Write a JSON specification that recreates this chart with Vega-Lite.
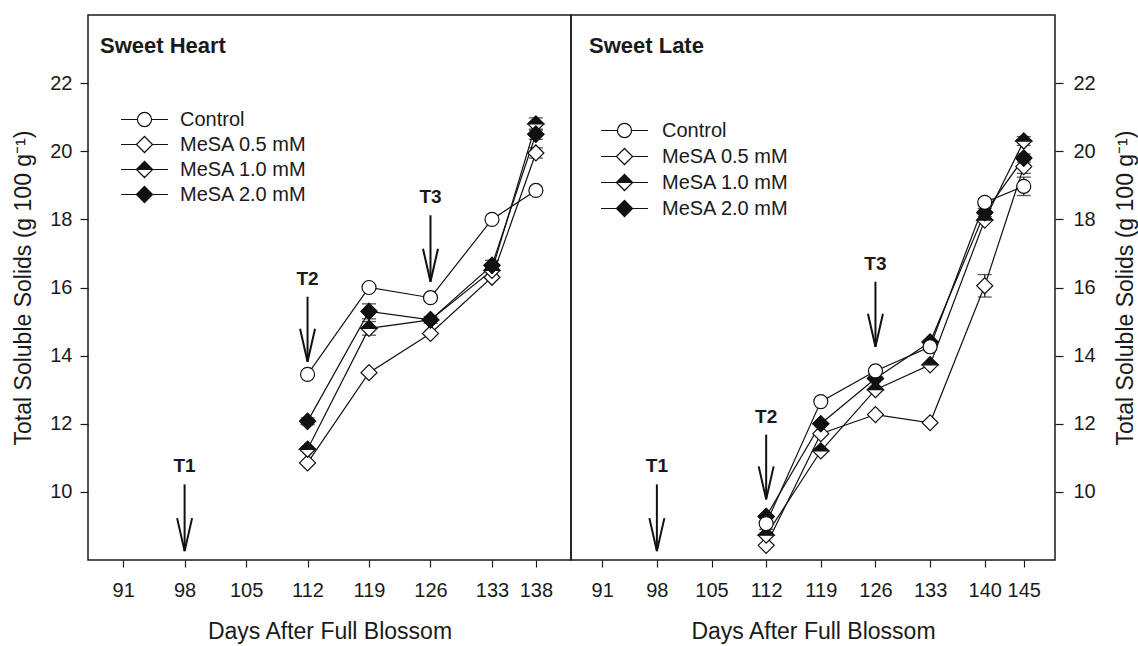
{
  "$schema": "https://vega.github.io/schema/vega-lite/v6.json",
  "background": "white",
  "padding": {"left": 12, "top": 14, "right": 4, "bottom": 4},
  "spacing": 0,
  "bounds": "flush",
  "config": {
    "font": "Liberation Sans",
    "view": {"stroke": "#1a1a1a", "strokeWidth": 1.5},
    "axis": {
      "labelFont": "Liberation Sans", "labelFontSize": 20, "labelColor": "#1a1a1a",
      "titleFont": "Liberation Sans", "titleFontSize": 23, "titleFontWeight": "normal", "titleColor": "#1a1a1a",
      "tickColor": "#1a1a1a", "tickWidth": 1.2, "grid": false, "domain": false
    },
    "axisX": {"tickSize": 7, "labelPadding": 13, "titlePadding": 20},
    "axisY": {"tickSize": 8, "labelPadding": 8, "titlePadding": 14},
    "legend": {"labelFont": "Liberation Sans", "padding": 0}
  },
  "datasets": {
    "heart": [
      {"series": "Control", "day": 112, "tss": 13.45},
      {"series": "Control", "day": 119, "tss": 16.0},
      {"series": "Control", "day": 126, "tss": 15.7},
      {"series": "Control", "day": 133, "tss": 18.0},
      {"series": "Control", "day": 138, "tss": 18.85},
      {"series": "MeSA 0.5 mM", "day": 112, "tss": 10.85},
      {"series": "MeSA 0.5 mM", "day": 119, "tss": 13.5},
      {"series": "MeSA 0.5 mM", "day": 126, "tss": 14.65},
      {"series": "MeSA 0.5 mM", "day": 133, "tss": 16.3},
      {"series": "MeSA 0.5 mM", "day": 138, "tss": 19.95, "lo": 19.8, "hi": 20.1},
      {"series": "MeSA 1.0 mM", "day": 112, "tss": 11.25},
      {"series": "MeSA 1.0 mM", "day": 119, "tss": 14.8, "lo": 14.6, "hi": 15.0},
      {"series": "MeSA 1.0 mM", "day": 126, "tss": 15.05},
      {"series": "MeSA 1.0 mM", "day": 133, "tss": 16.5, "lo": 16.35, "hi": 16.65},
      {"series": "MeSA 1.0 mM", "day": 138, "tss": 20.8, "lo": 20.62, "hi": 20.98},
      {"series": "MeSA 2.0 mM", "day": 112, "tss": 12.07, "lo": 11.97, "hi": 12.17},
      {"series": "MeSA 2.0 mM", "day": 119, "tss": 15.3, "lo": 15.08, "hi": 15.52},
      {"series": "MeSA 2.0 mM", "day": 126, "tss": 15.05, "lo": 14.95, "hi": 15.15},
      {"series": "MeSA 2.0 mM", "day": 133, "tss": 16.65, "lo": 16.5, "hi": 16.8},
      {"series": "MeSA 2.0 mM", "day": 138, "tss": 20.5, "lo": 20.35, "hi": 20.65}
    ],
    "late": [
      {"series": "Control", "day": 112, "tss": 9.07, "lo": 8.9, "hi": 9.24},
      {"series": "Control", "day": 119, "tss": 12.65},
      {"series": "Control", "day": 126, "tss": 13.55},
      {"series": "Control", "day": 133, "tss": 14.26},
      {"series": "Control", "day": 140, "tss": 18.5, "lo": 18.4, "hi": 18.6},
      {"series": "Control", "day": 145, "tss": 18.97, "lo": 18.7, "hi": 19.24},
      {"series": "MeSA 0.5 mM", "day": 112, "tss": 8.43},
      {"series": "MeSA 0.5 mM", "day": 119, "tss": 11.71},
      {"series": "MeSA 0.5 mM", "day": 126, "tss": 12.27},
      {"series": "MeSA 0.5 mM", "day": 133, "tss": 12.03},
      {"series": "MeSA 0.5 mM", "day": 140, "tss": 16.05, "lo": 15.72, "hi": 16.38},
      {"series": "MeSA 0.5 mM", "day": 145, "tss": 19.55, "lo": 19.35, "hi": 19.75},
      {"series": "MeSA 1.0 mM", "day": 112, "tss": 8.73},
      {"series": "MeSA 1.0 mM", "day": 119, "tss": 11.2},
      {"series": "MeSA 1.0 mM", "day": 126, "tss": 13.0},
      {"series": "MeSA 1.0 mM", "day": 133, "tss": 13.73},
      {"series": "MeSA 1.0 mM", "day": 140, "tss": 17.98},
      {"series": "MeSA 1.0 mM", "day": 145, "tss": 20.3, "lo": 20.17, "hi": 20.43},
      {"series": "MeSA 2.0 mM", "day": 112, "tss": 9.28},
      {"series": "MeSA 2.0 mM", "day": 119, "tss": 12.0},
      {"series": "MeSA 2.0 mM", "day": 126, "tss": 13.33},
      {"series": "MeSA 2.0 mM", "day": 133, "tss": 14.4},
      {"series": "MeSA 2.0 mM", "day": 140, "tss": 18.2, "lo": 18.08, "hi": 18.32},
      {"series": "MeSA 2.0 mM", "day": 145, "tss": 19.8, "lo": 19.68, "hi": 19.92}
    ],
    "heartArrows": [
      {"label": "T1", "day": 98, "from": 10.22, "to": 8.26},
      {"label": "T2", "day": 112, "from": 15.73, "to": 13.82},
      {"label": "T3", "day": 126, "from": 18.12, "to": 16.17}
    ],
    "lateArrows": [
      {"label": "T1", "day": 98, "from": 10.22, "to": 8.26},
      {"label": "T2", "day": 112, "from": 11.68, "to": 9.78},
      {"label": "T3", "day": 126, "from": 16.17, "to": 14.26}
    ]
  },
  "resolve": {
    "scale": {"shape": "independent", "fill": "independent"},
    "legend": {"shape": "independent", "fill": "independent"}
  },
  "hconcat": [
    {
      "width": 483,
      "height": 545,
      "title": {"text": "Sweet Heart", "anchor": "start", "frame": "group", "orient": "top", "offset": 0, "dx": 12, "dy": 60, "baseline": "alphabetic", "fontSize": 22, "fontWeight": "bold", "font": "Liberation Sans", "color": "#1a1a1a"},
      "encoding": {
        "x": {"field": "day", "type": "quantitative", "scale": {"domain": [87, 142], "nice": false, "zero": false},
              "axis": {"values": [91, 98, 105, 112, 119, 126, 133, 138], "title": "Days After Full Blossom"}},
        "y": {"field": "tss", "type": "quantitative", "scale": {"domain": [8, 24], "nice": false, "zero": false},
              "axis": {"values": [10, 12, 14, 16, 18, 20, 22], "orient": "left", "title": "Total Soluble Solids (g 100 g⁻¹)"}}
      },
      "layer": [
        {"data": {"name": "heart"}, "transform": [{"filter": "datum.lo != null"}],
         "mark": {"type": "rule", "color": "#111", "strokeWidth": 1.2},
         "encoding": {"y": {"field": "lo", "type": "quantitative"}, "y2": {"field": "hi"}}},
        {"data": {"name": "heart"}, "transform": [{"filter": "datum.lo != null"}],
         "mark": {"type": "tick", "orient": "horizontal", "size": 14, "thickness": 1.3, "color": "#111"},
         "encoding": {"y": {"field": "lo", "type": "quantitative"}}},
        {"data": {"name": "heart"}, "transform": [{"filter": "datum.lo != null"}],
         "mark": {"type": "tick", "orient": "horizontal", "size": 14, "thickness": 1.3, "color": "#111"},
         "encoding": {"y": {"field": "hi", "type": "quantitative"}}},
        {"data": {"name": "heart"},
         "mark": {"type": "line", "color": "#111", "strokeWidth": 1.2},
         "encoding": {"detail": {"field": "series"}}},
        {"data": {"name": "heart"}, "transform": [{"filter": "datum.series != 'Control'"}],
         "mark": {"type": "point", "shape": "diamond", "size": 256, "filled": true, "fill": "white", "stroke": "#111", "strokeWidth": 1.2, "opacity": 1}},
        {"data": {"name": "heart"}, "transform": [{"filter": "datum.series == 'MeSA 1.0 mM'"}],
         "mark": {"type": "point", "shape": "M-1,0L0,-1L1,0Z", "size": 256, "filled": true, "fill": "#111", "stroke": "#111", "strokeWidth": 1.2, "opacity": 1}},
        {"data": {"name": "heart"}, "transform": [{"filter": "datum.series == 'MeSA 2.0 mM'"}],
         "mark": {"type": "point", "shape": "diamond", "size": 256, "filled": true, "fill": "#111", "stroke": "#111", "strokeWidth": 1.2, "opacity": 1}},
        {"data": {"name": "heart"}, "transform": [{"filter": "datum.series == 'Control'"}],
         "mark": {"type": "point", "shape": "circle", "size": 196, "filled": true, "fill": "white", "stroke": "#111", "strokeWidth": 1.2, "opacity": 1}},
        {"data": {"name": "heart"},
         "mark": {"type": "point", "filled": true, "opacity": 0, "stroke": "#111", "strokeWidth": 1.2},
         "encoding": {
           "shape": {"field": "series", "type": "nominal",
             "scale": {"domain": ["Control", "MeSA 0.5 mM", "MeSA 1.0 mM", "MeSA 2.0 mM"],
                       "range": ["M-2.4,0H-0.72M0.72,0H2.4M-0.72,0A0.72,0.72,0,1,1,0.72,0A0.72,0.72,0,1,1,-0.72,0Z",
                                 "M-2.4,0H-0.82M0.82,0H2.4M-0.82,0L0,-0.82L0.82,0L0,0.82Z",
                                 "M-2.4,0H-0.82M0.82,0H2.4M-0.82,0L0,-0.82L0.82,0ZM-0.82,0L0,0.82L0.82,0L0,0.82Z",
                                 "M-2.4,0H-0.82M0.82,0H2.4M-0.82,0L0,-0.82L0.82,0L0,0.82Z"]},
             "legend": {"orient": "none", "legendX": 46, "legendY": 94, "title": null, "labelFontSize": 20, "labelColor": "#1a1a1a", "labelOffset": 25, "rowPadding": 4, "symbolSize": 384, "symbolStrokeColor": "#111", "symbolStrokeWidth": 1.2, "symbolOpacity": 1,
                        "encode": {"symbols": {"update": {"stroke": {"value": "#111"}, "strokeWidth": {"value": 1.2}, "opacity": {"value": 1}}}}}},
           "fill": {"field": "series", "type": "nominal",
             "scale": {"domain": ["Control", "MeSA 0.5 mM", "MeSA 1.0 mM", "MeSA 2.0 mM"], "range": ["white", "white", "#111", "#111"]},
             "legend": {"orient": "none", "legendX": 46, "legendY": 94, "title": null, "labelFontSize": 20, "labelColor": "#1a1a1a", "labelOffset": 25, "rowPadding": 4, "symbolSize": 384, "symbolStrokeColor": "#111", "symbolStrokeWidth": 1.2, "symbolOpacity": 1,
                        "encode": {"symbols": {"update": {"stroke": {"value": "#111"}, "strokeWidth": {"value": 1.2}, "opacity": {"value": 1}}}}}}
         }},
        {"data": {"name": "heartArrows"},
         "mark": {"type": "rule", "color": "#111", "strokeWidth": 2},
         "encoding": {"y": {"field": "from", "type": "quantitative"}, "y2": {"field": "to"}}},
        {"data": {"name": "heartArrows"},
         "mark": {"type": "point", "shape": "M-0.5,-2.2L0,0L0.5,-2.2", "size": 900, "filled": false, "stroke": "#111", "strokeWidth": 2, "opacity": 1},
         "encoding": {"y": {"field": "to", "type": "quantitative"}}},
        {"data": {"name": "heartArrows"},
         "mark": {"type": "text", "fontSize": 19, "fontWeight": "bold", "font": "Liberation Sans", "color": "#1a1a1a", "baseline": "middle", "dy": -18},
         "encoding": {"y": {"field": "from", "type": "quantitative"}, "text": {"field": "label"}}}
      ]
    },
    {
      "width": 484,
      "height": 545,
      "title": {"text": "Sweet Late", "anchor": "start", "frame": "group", "orient": "top", "offset": 0, "dx": 18, "dy": 60, "baseline": "alphabetic", "fontSize": 22, "fontWeight": "bold", "font": "Liberation Sans", "color": "#1a1a1a"},
      "encoding": {
        "x": {"field": "day", "type": "quantitative", "scale": {"domain": [87, 149], "nice": false, "zero": false},
              "axis": {"values": [91, 98, 105, 112, 119, 126, 133, 140, 145], "title": "Days After Full Blossom"}},
        "y": {"field": "tss", "type": "quantitative", "scale": {"domain": [8, 24], "nice": false, "zero": false},
              "axis": {"values": [10, 12, 14, 16, 18, 20, 22], "orient": "right", "titleAngle": 270, "labelPadding": 10, "titlePadding": 42, "title": "Total Soluble Solids (g 100 g⁻¹)"}}
      },
      "layer": [
        {"data": {"name": "late"}, "transform": [{"filter": "datum.lo != null"}],
         "mark": {"type": "rule", "color": "#111", "strokeWidth": 1.2},
         "encoding": {"y": {"field": "lo", "type": "quantitative"}, "y2": {"field": "hi"}}},
        {"data": {"name": "late"}, "transform": [{"filter": "datum.lo != null"}],
         "mark": {"type": "tick", "orient": "horizontal", "size": 14, "thickness": 1.3, "color": "#111"},
         "encoding": {"y": {"field": "lo", "type": "quantitative"}}},
        {"data": {"name": "late"}, "transform": [{"filter": "datum.lo != null"}],
         "mark": {"type": "tick", "orient": "horizontal", "size": 14, "thickness": 1.3, "color": "#111"},
         "encoding": {"y": {"field": "hi", "type": "quantitative"}}},
        {"data": {"name": "late"},
         "mark": {"type": "line", "color": "#111", "strokeWidth": 1.2},
         "encoding": {"detail": {"field": "series"}}},
        {"data": {"name": "late"}, "transform": [{"filter": "datum.series != 'Control'"}],
         "mark": {"type": "point", "shape": "diamond", "size": 256, "filled": true, "fill": "white", "stroke": "#111", "strokeWidth": 1.2, "opacity": 1}},
        {"data": {"name": "late"}, "transform": [{"filter": "datum.series == 'MeSA 1.0 mM'"}],
         "mark": {"type": "point", "shape": "M-1,0L0,-1L1,0Z", "size": 256, "filled": true, "fill": "#111", "stroke": "#111", "strokeWidth": 1.2, "opacity": 1}},
        {"data": {"name": "late"}, "transform": [{"filter": "datum.series == 'MeSA 2.0 mM'"}],
         "mark": {"type": "point", "shape": "diamond", "size": 256, "filled": true, "fill": "#111", "stroke": "#111", "strokeWidth": 1.2, "opacity": 1}},
        {"data": {"name": "late"}, "transform": [{"filter": "datum.series == 'Control'"}],
         "mark": {"type": "point", "shape": "circle", "size": 196, "filled": true, "fill": "white", "stroke": "#111", "strokeWidth": 1.2, "opacity": 1}},
        {"data": {"name": "late"},
         "mark": {"type": "point", "filled": true, "opacity": 0, "stroke": "#111", "strokeWidth": 1.2},
         "encoding": {
           "shape": {"field": "series", "type": "nominal",
             "scale": {"domain": ["Control", "MeSA 0.5 mM", "MeSA 1.0 mM", "MeSA 2.0 mM"],
                       "range": ["M-2.4,0H-0.72M0.72,0H2.4M-0.72,0A0.72,0.72,0,1,1,0.72,0A0.72,0.72,0,1,1,-0.72,0Z",
                                 "M-2.4,0H-0.82M0.82,0H2.4M-0.82,0L0,-0.82L0.82,0L0,0.82Z",
                                 "M-2.4,0H-0.82M0.82,0H2.4M-0.82,0L0,-0.82L0.82,0ZM-0.82,0L0,0.82L0.82,0L0,0.82Z",
                                 "M-2.4,0H-0.82M0.82,0H2.4M-0.82,0L0,-0.82L0.82,0L0,0.82Z"]},
             "legend": {"orient": "none", "legendX": 43, "legendY": 105, "title": null, "labelFontSize": 20, "labelColor": "#1a1a1a", "labelOffset": 27, "rowPadding": 5, "symbolSize": 384, "symbolStrokeColor": "#111", "symbolStrokeWidth": 1.2, "symbolOpacity": 1,
                        "encode": {"symbols": {"update": {"stroke": {"value": "#111"}, "strokeWidth": {"value": 1.2}, "opacity": {"value": 1}}}}}},
           "fill": {"field": "series", "type": "nominal",
             "scale": {"domain": ["Control", "MeSA 0.5 mM", "MeSA 1.0 mM", "MeSA 2.0 mM"], "range": ["white", "white", "#111", "#111"]},
             "legend": {"orient": "none", "legendX": 43, "legendY": 105, "title": null, "labelFontSize": 20, "labelColor": "#1a1a1a", "labelOffset": 27, "rowPadding": 5, "symbolSize": 384, "symbolStrokeColor": "#111", "symbolStrokeWidth": 1.2, "symbolOpacity": 1,
                        "encode": {"symbols": {"update": {"stroke": {"value": "#111"}, "strokeWidth": {"value": 1.2}, "opacity": {"value": 1}}}}}}
         }},
        {"data": {"name": "lateArrows"},
         "mark": {"type": "rule", "color": "#111", "strokeWidth": 2},
         "encoding": {"y": {"field": "from", "type": "quantitative"}, "y2": {"field": "to"}}},
        {"data": {"name": "lateArrows"},
         "mark": {"type": "point", "shape": "M-0.5,-2.2L0,0L0.5,-2.2", "size": 900, "filled": false, "stroke": "#111", "strokeWidth": 2, "opacity": 1},
         "encoding": {"y": {"field": "to", "type": "quantitative"}}},
        {"data": {"name": "lateArrows"},
         "mark": {"type": "text", "fontSize": 19, "fontWeight": "bold", "font": "Liberation Sans", "color": "#1a1a1a", "baseline": "middle", "dy": -18},
         "encoding": {"y": {"field": "from", "type": "quantitative"}, "text": {"field": "label"}}}
      ]
    }
  ]
}
